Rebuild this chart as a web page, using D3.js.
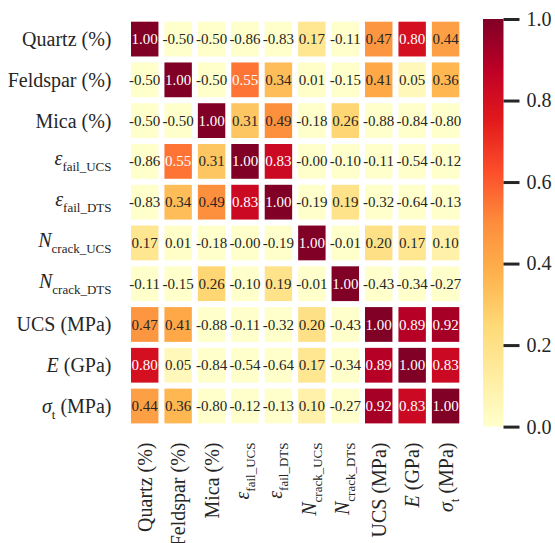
<!DOCTYPE html>
<html lang="en">
<head>
<meta charset="utf-8">
<title>Correlation heatmap</title>
<script src="https://cdn.jsdelivr.net/npm/d3@7"></script>
<style>
  body { margin: 0; background: #fff; }
  svg { display: block; }
</style>
</head>
<body>
<script>
// variable names (rows and columns are the same)
var varKeys = ['quartz', 'feldspar', 'mica', 'epsUCS', 'epsDTS', 'nUCS', 'nDTS', 'ucs', 'e', 'sigma'];

// label parts: [main text, italic?, subscript, trailing text]
var varLabels = [
  ['Quartz (%)', false, '', ''],
  ['Feldspar (%)', false, '', ''],
  ['Mica (%)', false, '', ''],
  ['ε', true, 'fail_UCS', ''],
  ['ε', true, 'fail_DTS', ''],
  ['N', true, 'crack_UCS', ''],
  ['N', true, 'crack_DTS', ''],
  ['UCS (MPa)', false, '', ''],
  ['E', true, '', ' (GPa)'],
  ['σ', true, 't', ' (MPa)']
];

// correlation matrix, row by row
var rQuartz   = [ 1.00, -0.50, -0.50, -0.86, -0.83,  0.17, -0.11,  0.47,  0.80,  0.44];
var rFeldspar = [-0.50,  1.00, -0.50,  0.55,  0.34,  0.01, -0.15,  0.41,  0.05,  0.36];
var rMica     = [-0.50, -0.50,  1.00,  0.31,  0.49, -0.18,  0.26, -0.88, -0.84, -0.80];
var rEpsUCS   = [-0.86,  0.55,  0.31,  1.00,  0.83, -0.004, -0.10, -0.11, -0.54, -0.12];
var rEpsDTS   = [-0.83,  0.34,  0.49,  0.83,  1.00, -0.19,  0.19, -0.32, -0.64, -0.13];
var rNUCS     = [ 0.17,  0.01, -0.18, -0.004, -0.19, 1.00, -0.01,  0.20,  0.17,  0.10];
var rNDTS     = [-0.11, -0.15,  0.26, -0.10,  0.19, -0.01,  1.00, -0.43, -0.34, -0.27];
var rUCS      = [ 0.47,  0.41, -0.88, -0.11, -0.32,  0.20, -0.43,  1.00,  0.89,  0.92];
var rE        = [ 0.80,  0.05, -0.84, -0.54, -0.64,  0.17, -0.34,  0.89,  1.00,  0.83];
var rSigma    = [ 0.44,  0.36, -0.80, -0.12, -0.13,  0.10, -0.27,  0.92,  0.83,  1.00];
var matrix = [rQuartz, rFeldspar, rMica, rEpsUCS, rEpsDTS, rNUCS, rNDTS, rUCS, rE, rSigma];

var cbarTicks = [0, 0.2, 0.4, 0.6, 0.8, 1.0];

var width = 555, height = 543;
var gridLeft = 128, gridRight = 462.3, gridTop = 18.7, gridBottom = 426.4;
var gap = 6;
var serif = 'Liberation Serif';

var svg = d3.select('body').append('svg')
    .attr('width', width)
    .attr('height', height)
    .attr('font-family', serif);

var x = d3.scaleBand().domain(varKeys).range([gridLeft, gridRight]);
var y = d3.scaleBand().domain(varKeys).range([gridTop, gridBottom]);

// matplotlib-style YlOrRd (linear through the 9 anchor colours), clipped at 0..1
var ylorrd = d3.scaleLinear()
    .domain(d3.range(9).map(function(i){ return i / 8; }))
    .range(d3.schemeYlOrRd[9])
    .clamp(true);

function lum(c){
  var rgb = d3.rgb(c);
  var ch = [rgb.r, rgb.g, rgb.b].map(function(v){
    v = v / 255;
    return v <= 0.03928 ? v / 12.92 : Math.pow((v + 0.055) / 1.055, 2.4);
  });
  return 0.2126 * ch[0] + 0.7152 * ch[1] + 0.0722 * ch[2];
}

var cells = [];
matrix.forEach(function(row, i){
  row.forEach(function(v, j){
    cells.push({row: varKeys[i], col: varKeys[j], value: v});
  });
});

svg.selectAll('.cell')
    .data(cells)
    .enter()
    .append('rect')
    .attr('class', 'cell')
    .attr('x', function(d){ return x(d.col) + gap / 2; })
    .attr('y', function(d){ return y(d.row) + gap / 2; })
    .attr('width', x.bandwidth() - gap)
    .attr('height', y.bandwidth() - gap)
    .style('fill', function(d){ return ylorrd(d.value); });

svg.selectAll('.annot')
    .data(cells)
    .enter()
    .append('text')
    .attr('class', 'annot')
    .attr('font-family', serif)
    .attr('font-size', 15)
    .attr('x', function(d){ return x(d.col) + x.bandwidth() / 2; })
    .attr('y', function(d){ return y(d.row) + y.bandwidth() / 2; })
    .attr('dy', '0.34em')
    .attr('text-anchor', 'middle')
    .style('fill', function(d){
      return lum(ylorrd(d.value)) > 0.408 ? '#262626' : '#ffffff';
    })
    .text(function(d){ return d.value.toFixed(2); });

// label builder with italic symbol and subscript
function fillLabel(sel, shift){
  sel.each(function(d, i){
    var parts = varLabels[i];
    var t = d3.select(this);
    var hasSub = parts[2] !== '';
    var main = t.append('tspan').text(parts[0]);
    if (parts[1]) main.attr('font-style', 'italic');
    if (hasSub) {
      t.append('tspan').attr('dy', shift).attr('font-size', 13).text(parts[2]);
      if (parts[3]) t.append('tspan').attr('dy', -shift).text(parts[3]);
    } else if (parts[3]) {
      t.append('tspan').text(parts[3]);
    }
  });
}

function labelOffset(i){
  return varLabels[i][2] !== '' && varLabels[i][3] === '' ? 4 : 7;
}

// y labels
svg.selectAll('.ylbl')
    .data(varKeys)
    .enter()
    .append('text')
    .attr('class', 'ylbl')
    .attr('font-family', serif)
    .attr('font-size', 20)
    .attr('fill', '#262626')
    .attr('x', 111.5)
    .attr('y', function(d, i){ return y(d) + y.bandwidth() / 2 + labelOffset(i); })
    .attr('text-anchor', 'end')
    .call(fillLabel, 6);

// x labels, rotated
svg.selectAll('.xlbl')
    .data(varKeys)
    .enter()
    .append('text')
    .attr('class', 'xlbl')
    .attr('font-family', serif)
    .attr('font-size', 20)
    .attr('fill', '#262626')
    .attr('transform', function(d, i){
      return 'translate(' + (x(d) + x.bandwidth() / 2 + labelOffset(i)) + ',442.5) rotate(-90)';
    })
    .attr('text-anchor', 'end')
    .call(fillLabel, 6);

// colour bar
var cbX = 483, cbW = 20.5;
var cbScale = d3.scaleLinear().domain([0, 1]).range([426.6, 19]);

var grad = svg.append('defs').append('linearGradient')
    .attr('id', 'cbgrad')
    .attr('x1', 0).attr('y1', 1).attr('x2', 0).attr('y2', 0);
grad.selectAll('stop')
    .data(d3.range(0, 1.0001, 0.125))
    .enter()
    .append('stop')
    .attr('offset', function(d){ return d; })
    .attr('stop-color', function(d){ return ylorrd(d); });

svg.append('rect')
    .attr('x', cbX)
    .attr('y', cbScale(1))
    .attr('width', cbW)
    .attr('height', cbScale(0) - cbScale(1))
    .style('fill', 'url(#cbgrad)');

var cbAxis = svg.append('g')
    .attr('transform', 'translate(' + (cbX + cbW) + ',0)')
    .call(d3.axisRight(cbScale).tickValues(cbarTicks).tickSize(16).tickPadding(7).tickFormat(d3.format('.1f')));
cbAxis.attr('font-family', serif).attr('font-size', 20);
cbAxis.select('.domain').remove();
cbAxis.selectAll('.tick line').style('stroke', '#262626').style('stroke-width', 3);
cbAxis.selectAll('.tick text').attr('fill', '#262626');
</script>
</body>
</html>
